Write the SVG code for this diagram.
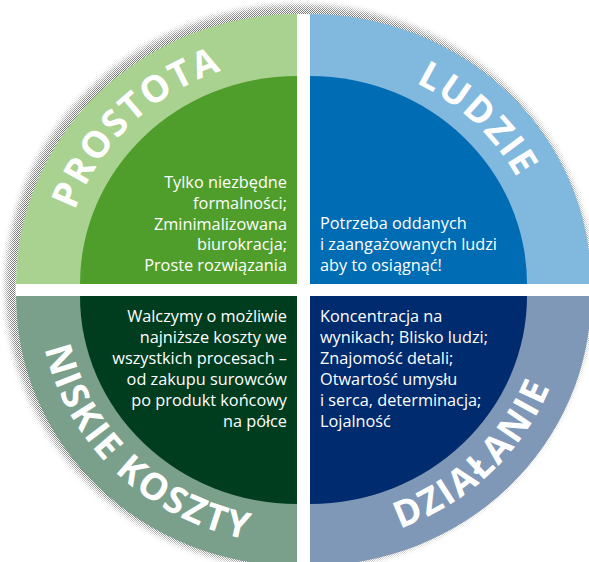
<svg xmlns="http://www.w3.org/2000/svg" xmlns:xlink="http://www.w3.org/1999/xlink" width="589" height="562" viewBox="0 0 589 562">
  <style>
    .lbl { font-family: "Open Sans", "Noto Sans", sans-serif; font-weight: 700; font-size: 37px; fill: #ffffff; letter-spacing: 2px; }
    .body { font-family: "Open Sans", "Noto Sans", sans-serif; font-size: 16.3px; fill: #ffffff; }
    .r { text-anchor: end; }
  </style>
  <defs>
    <pattern id="dots" width="2" height="2" patternUnits="userSpaceOnUse">
      <rect width="1" height="1" fill="#7a7a7a"/>
      <rect x="1" y="1" width="1" height="1" fill="#7a7a7a"/>
    </pattern>
    <filter id="blur" x="-10%" y="-10%" width="120%" height="120%">
      <feGaussianBlur stdDeviation="3"/>
    </filter>
    <mask id="shm">
      <ellipse cx="299" cy="287" rx="293" ry="282" fill="#ffffff" filter="url(#blur)"/>
      <ellipse cx="303.5" cy="290" rx="288" ry="276" fill="#000000"/>
    </mask>
    <path id="pTL" d="M62,284 A235,225 0 0 1 297,59"/>
    <path id="pTR" d="M310,59 A235,225 0 0 1 545,284"/>
    <path id="pBL" d="M39,296 A258,248 0 0 0 297,544"/>
    <path id="pBR" d="M310,544 A258,248 0 0 0 568,296"/>
  </defs>
  <rect width="589" height="562" fill="#ffffff"/>
  <rect id="shadow" width="589" height="562" fill="url(#dots)" mask="url(#shm)"/>

  <g id="prostota">
    <path d="M297,284 L16,284 A281,270 0 0 1 297,14 Z" fill="#a9d18f"/>
    <path d="M297,284 L80,284 A217,208 0 0 1 297,76 Z" fill="#4f9e2c"/>
    <text class="lbl"><textPath xlink:href="#pTL" href="#pTL" startOffset="50%" text-anchor="middle">PROSTOTA</textPath></text>
    <text class="body r" x="287" y="188">Tylko niezbędne</text>
    <text class="body r" x="287" y="209">formalności;</text>
    <text class="body r" x="287" y="230">Zminimalizowana</text>
    <text class="body r" x="287" y="250">biurokracja;</text>
    <text class="body r" x="287" y="271">Proste rozwiązania</text>
  </g>

  <g id="ludzie">
    <path d="M310,284 L310,14 A281,270 0 0 1 591,284 Z" fill="#80b8de"/>
    <path d="M310,284 L310,76 A217,208 0 0 1 527,284 Z" fill="#006cb4"/>
    <text class="lbl"><textPath xlink:href="#pTR" href="#pTR" startOffset="50%" text-anchor="middle">LUDZIE</textPath></text>
    <text class="body" x="320" y="229">Potrzeba oddanych</text>
    <text class="body" x="320" y="250">i zaangażowanych ludzi</text>
    <text class="body" x="320" y="271">aby to osiągnąć!</text>
  </g>

  <g id="niskie-koszty">
    <path d="M297,296 L297,566 A281,270 0 0 1 16,296 Z" fill="#7a9f8b"/>
    <path d="M297,296 L297,504 A217,208 0 0 1 80,296 Z" fill="#003d1f"/>
    <text class="lbl"><textPath xlink:href="#pBL" href="#pBL" startOffset="185" text-anchor="end">NISKIE</textPath></text>
    <text class="lbl"><textPath xlink:href="#pBL" href="#pBL" startOffset="196" text-anchor="start">KOSZTY</textPath></text>
    <text class="body r" x="287" y="322">Walczymy o możliwie</text>
    <text class="body r" x="287" y="343">najniższe koszty we</text>
    <text class="body r" x="287" y="364">wszystkich procesach –</text>
    <text class="body r" x="287" y="385">od zakupu surowców</text>
    <text class="body r" x="287" y="406">po produkt końcowy</text>
    <text class="body r" x="287" y="427">na półce</text>
  </g>

  <g id="dzialanie">
    <path d="M310,296 L591,296 A281,270 0 0 1 310,566 Z" fill="#7f98b7"/>
    <path d="M310,296 L527,296 A217,208 0 0 1 310,504 Z" fill="#002b6e"/>
    <text class="lbl"><textPath xlink:href="#pBR" href="#pBR" startOffset="50%" text-anchor="middle">DZIAŁANIE</textPath></text>
    <text class="body" x="320" y="322">Koncentracja na</text>
    <text class="body" x="320" y="343">wynikach; Blisko ludzi;</text>
    <text class="body" x="320" y="364">Znajomość detali;</text>
    <text class="body" x="320" y="385">Otwartość umysłu</text>
    <text class="body" x="320" y="406">i serca, determinacja;</text>
    <text class="body" x="320" y="427">Lojalność</text>
  </g>

  <g id="connectors"/>
</svg>
